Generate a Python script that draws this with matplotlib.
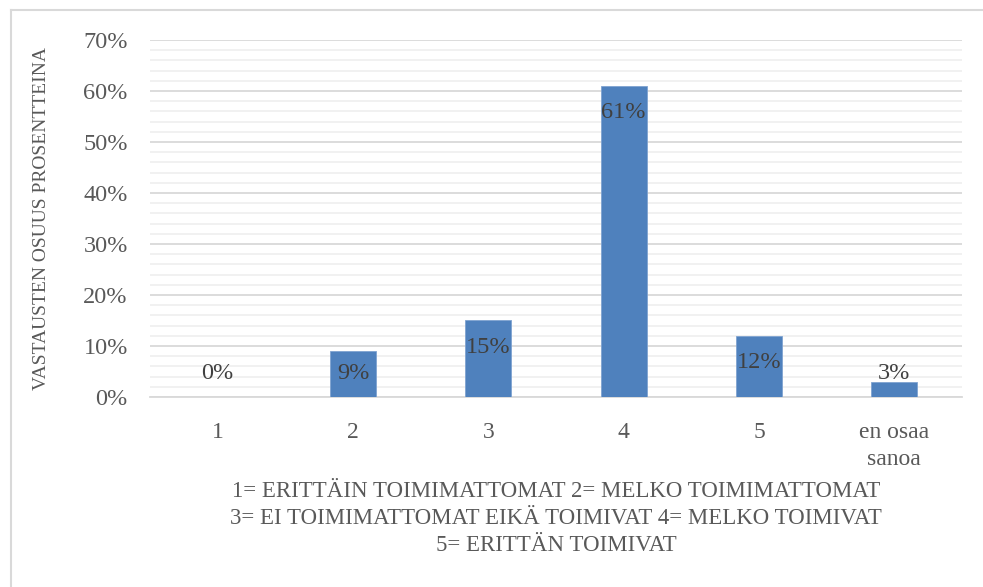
import numpy as np
import matplotlib
matplotlib.use("Agg")
import matplotlib.pyplot as plt
from matplotlib.ticker import MultipleLocator, PercentFormatter

# -----------------------------
# Data
# -----------------------------
categories = ["1", "2", "3", "4", "5", "en osaa\nsanoa"]
shares = [0.00, 0.09, 0.15, 0.61, 0.12, 0.03]
value_labels = ["0%", "9%", "15%", "61%", "12%", "3%"]

y_label = "VASTAUSTEN OSUUS PROSENTTEINA"
x_label = ("1= ERITTÄIN TOIMIMATTOMAT 2= MELKO TOIMIMATTOMAT\n"
           "3= EI TOIMIMATTOMAT EIKÄ TOIMIVAT 4= MELKO TOIMIVAT\n"
           "5= ERITTÄN TOIMIVAT")

# -----------------------------
# Style
# -----------------------------
TEXT = "#595959"
BAR = "#4f81bd"
plt.rcParams["font.family"] = ["Liberation Serif", "DejaVu Serif"]

fig = plt.figure(figsize=(9.83, 5.87), dpi=100)
ax = fig.add_axes([0.1526, 0.3237, 0.826, 0.6082])

x = np.arange(len(categories))
ax.bar(x, shares, width=0.34, color=BAR, edgecolor="#7fa3d1", linewidth=0.6, zorder=3)

# data labels: inside end, pushed up for small bars
for xi, v, lab in zip(x, shares, value_labels):
    ax.text(xi, max(v - 0.052, 0.047), lab, ha="center", va="center",
            fontsize=17.5, color="#404040", zorder=4)

ax.set_ylim(0, 0.7)
ax.set_xlim(-0.5, len(categories) - 0.5)
ax.yaxis.set_major_locator(MultipleLocator(0.1))
ax.yaxis.set_minor_locator(MultipleLocator(0.02))
ax.yaxis.set_major_formatter(PercentFormatter(1.0, decimals=0))
ax.grid(axis="y", which="major", color="#d9d9d9", linewidth=1.3, zorder=0)
ax.grid(axis="y", which="minor", color="#f0f0f0", linewidth=1.3, zorder=0)

ax.set_xticks(x)
ax.set_xticklabels(categories, fontsize=17, color=TEXT, linespacing=1.4)
ax.tick_params(axis="y", which="both", length=0, labelsize=17.5, labelcolor=TEXT, pad=16)
ax.tick_params(axis="x", length=0, pad=18)

for s in ["top", "right", "left"]:
    ax.spines[s].set_visible(False)
ax.spines["bottom"].set_color("#d9d9d9")
ax.spines["bottom"].set_linewidth(1.3)

ax.set_ylabel(y_label, fontsize=14, color=TEXT)
ax.yaxis.set_label_coords(-0.123, 0.5)
ax.set_xlabel(x_label, fontsize=16.5, color=TEXT, linespacing=1.38)
ax.xaxis.set_label_coords(0.5, -0.236)

# chart area border (left and top visible)
fig.add_artist(plt.Line2D([0.0107, 0.0107], [0.0, 0.983], color="#d9d9d9", linewidth=1.5))
fig.add_artist(plt.Line2D([0.0107, 1.0], [0.983, 0.983], color="#d9d9d9", linewidth=1.5))

fig.savefig("out.png", dpi=100)
